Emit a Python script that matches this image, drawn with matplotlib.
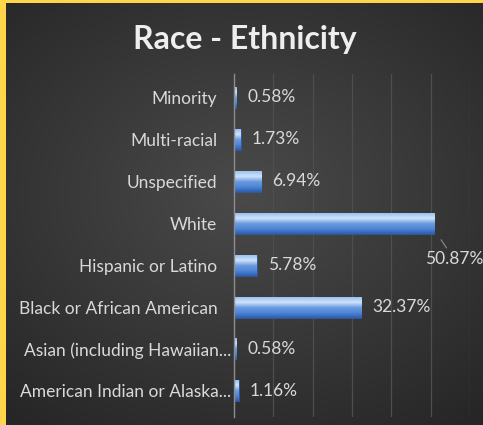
import numpy as np
import matplotlib
matplotlib.use("Agg")
import matplotlib.pyplot as plt
import matplotlib.transforms as mtransforms
from matplotlib.colors import LinearSegmentedColormap

categories = ["American Indian or Alaska...", "Asian (including Hawaiian...",
              "Black or African American", "Hispanic or Latino", "White",
              "Unspecified", "Multi-racial", "Minority"]
values = [1.16, 0.58, 32.37, 5.78, 50.87, 6.94, 1.73, 0.58]
labels = ["1.16%", "0.58%", "32.37%", "5.78%", "50.87%", "6.94%", "1.73%", "0.58%"]
title = "Race - Ethnicity"

W, H = 483, 425
fig = plt.figure(figsize=(W / 100, H / 100), dpi=100)
fig.patch.set_facecolor("#FFD54A")

# background panel with radial gradient
bg = fig.add_axes([6 / W, 0, 1 - 6 / W, 1 - 3 / H])
bg.set_axis_off()
yy, xx = np.mgrid[-1:1:200j, -1:1:200j]
r = np.sqrt((xx * 0.9) ** 2 + ((yy + 0.1) * 1.0) ** 2)
grad = np.clip(r / 1.4, 0, 1)
cmap_bg = LinearSegmentedColormap.from_list("bg", ["#4a4a4a", "#262626"])
bg.imshow(grad, cmap=cmap_bg, aspect="auto", extent=[0, 1, 0, 1])
bg.set_xlim(0, 1)
bg.set_ylim(0, 1)

font = "Lato"
tc = "#d9d9d9"
fs = 12.5

ax = fig.add_axes([234 / W, 1 - 417 / H, (470 - 234) / W, (417 - 74) / H])
ax.patch.set_alpha(0)
ypos = np.arange(len(categories))
bars = ax.barh(ypos, values, height=0.5, color="#5b8fd9", edgecolor="#2f5597",
               linewidth=0.6, zorder=3)

cmap_bar = LinearSegmentedColormap.from_list(
    "bar", ["#2d5fb0", "#4f86d6", "#6a9be0", "#cfe3fb", "#9cc1f0"])
gradv = np.linspace(0, 1, 64).reshape(-1, 1)
for b in bars:
    x0, y0 = b.get_x(), b.get_y()
    w, h = b.get_width(), b.get_height()
    im = ax.imshow(gradv, cmap=cmap_bar, aspect="auto", origin="lower",
                   extent=[x0, x0 + w, y0, y0 + h], zorder=4)
    im.set_clip_path(b)
ax.set_xlim(0, 60)
ax.set_ylim(-0.62, 7.55)

ax.set_xticks(np.arange(0, 61, 10))
ax.xaxis.grid(True, color="#4e4e4e", linewidth=0.9, zorder=0)
ax.tick_params(axis="x", length=0, labelbottom=False)
ax.tick_params(axis="y", length=0, pad=12)
ax.set_yticks(ypos)
ax.set_yticklabels(categories, fontsize=fs, color=tc, family=font)
shift = mtransforms.ScaledTranslation(10 / 72, 0, fig.dpi_scale_trans)
for t in ax.get_yticklabels():
    if t.get_text().endswith("..."):
        t.set_transform(t.get_transform() + shift)
for s in ["top", "right", "bottom"]:
    ax.spines[s].set_visible(False)
ax.spines["left"].set_color("#8c8c8c")
ax.spines["left"].set_linewidth(1.0)
ax.spines["left"].set_zorder(5)

big = int(np.argmax(values))
for i, (v, lab) in enumerate(zip(values, labels)):
    if i == big:
        ax.annotate(lab, xy=(v, i - 0.15), xytext=(v + 5.0, i - 0.85),
                    fontsize=fs, color=tc, family=font, ha="center", va="center",
                    arrowprops=dict(arrowstyle="-", color="#8c8c8c", lw=0.8,
                                    shrinkA=0, shrinkB=9))
    else:
        ax.annotate(lab, xy=(v, i), xytext=(8, 0), textcoords="offset points",
                    fontsize=fs, color=tc, family=font, ha="left", va="center")

fig.text(245 / W, 1 - 39 / H, title, fontsize=23, fontweight="bold",
         color="#eeeeee", family=font, ha="center", va="center")

fig.savefig("out.png", dpi=100, facecolor=fig.get_facecolor())
